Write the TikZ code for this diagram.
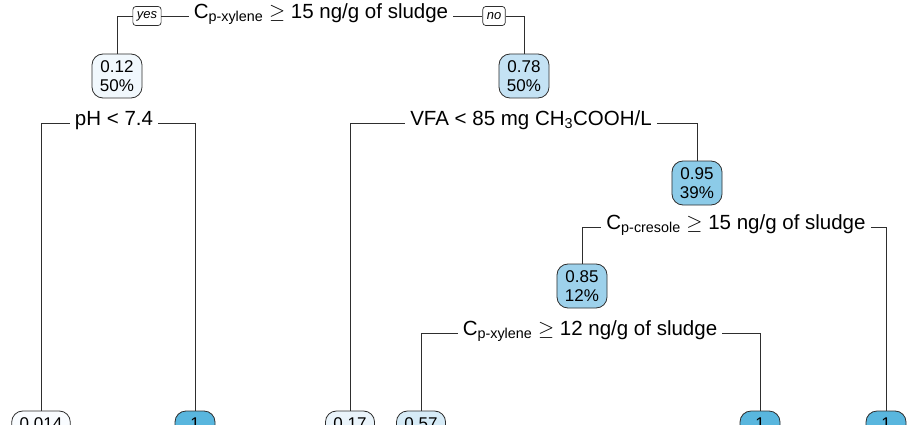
\documentclass[tikz,border=0pt]{standalone}
\usepackage{fontspec}
\setmainfont{Liberation Sans}
\definecolor{lc}{HTML}{2E2E2E}
\definecolor{c014}{HTML}{F9FCFF}
\definecolor{c12}{HTML}{F1F8FD}
\definecolor{c17}{HTML}{EAF4FB}
\definecolor{c57}{HTML}{D6EBF7}
\definecolor{c78}{HTML}{C4E2F4}
\definecolor{c85}{HTML}{9DD1EB}
\definecolor{c95}{HTML}{8CCBE8}
\definecolor{c1}{HTML}{59B6DE}
\tikzset{
  nbox/.style={draw=lc, line width=0.8pt, rounded corners=11pt, minimum height=44pt,
    inner xsep=8pt, inner ysep=0pt, align=center, font=\fontsize{17}{19}\selectfont},
  lbl/.style={font=\fontsize{20.5}{24}\selectfont, inner xsep=5pt, inner ysep=0pt, anchor=mid},
  yn/.style={draw=lc, line width=0.7pt, rounded corners=3pt, font=\fontsize{13}{15}\selectfont\itshape,
    inner xsep=4pt, inner ysep=0pt, minimum height=19pt},
  con/.style={draw=lc, line width=0.9pt}
}
\newcommand{\sbx}[1]{\textsubscript{#1}}
\begin{document}
\begin{tikzpicture}[x=1pt,y=-1pt]
\useasboundingbox (0,0) rectangle (920,425);
\clip (0,0) rectangle (920,425);
\fill[white] (0,0) rectangle (920,425);
% inner nodes
\node[nbox, fill=c12, minimum width=50pt] (n1) at (117,76) {0.12\\50\%};
\node[nbox, fill=c78, minimum width=50pt] (n2) at (524,76) {0.78\\50\%};
\node[nbox, fill=c95, minimum width=50pt] (n3) at (697,183) {0.95\\39\%};
\node[nbox, fill=c85, minimum width=50pt] (n4) at (582,286) {0.85\\12\%};
% leaves
\node[nbox, fill=c014, minimum width=58pt] (l1) at (41,433) {0.014\\\phantom{00\%}};
\node[nbox, fill=c1, minimum width=40pt, inner xsep=2pt] (l2) at (195,433) {1\\\phantom{0}};
\node[nbox, fill=c17, minimum width=46pt] (l3) at (350,433) {0.17\\\phantom{0}};
\node[nbox, fill=c57, minimum width=48pt] (l4) at (421,433) {0.57\\\phantom{0}};
\node[nbox, fill=c1, minimum width=40pt, inner xsep=2pt] (l5) at (760,433) {1\\\phantom{0}};
\node[nbox, fill=c1, minimum width=40pt, inner xsep=2pt] (l6) at (886,433) {1\\\phantom{0}};
% split labels
\node[lbl] (s1) at (321,16) {C\sbx{p-xylene} $\geq$ 15 ng/g of sludge};
\node[yn] (yes) at (147,16) {yes};
\node[yn] (no) at (494,16) {no};
\node[lbl] (s2) at (114,123) {pH < 7.4};
\node[lbl] (s3) at (531,123) {VFA < 85 mg CH\sbx{3}COOH/L};
\node[lbl] (s4) at (736,227) {C\sbx{p-cresole} $\geq$ 15 ng/g of sludge};
\node[lbl] (s5) at (590,333) {C\sbx{p-xylene} $\geq$ 12 ng/g of sludge};
% connectors
\draw[con] (n1.north) |- (yes.west);
\draw[con] (yes.east) -- (s1.mid west);
\draw[con] (s1.mid east) -- (no.west);
\draw[con] (no.east) -| (n2.north);
\draw[con] (l1.north) |- (s2.mid west);
\draw[con] (s2.mid east) -| (l2.north);
\draw[con] (l3.north) |- (s3.mid west);
\draw[con] (s3.mid east) -| (n3.north);
\draw[con] (n4.north) |- (s4.mid west);
\draw[con] (s4.mid east) -| (l6.north);
\draw[con] (l4.north) |- (s5.mid west);
\draw[con] (s5.mid east) -| (l5.north);
\end{tikzpicture}
\end{document}
